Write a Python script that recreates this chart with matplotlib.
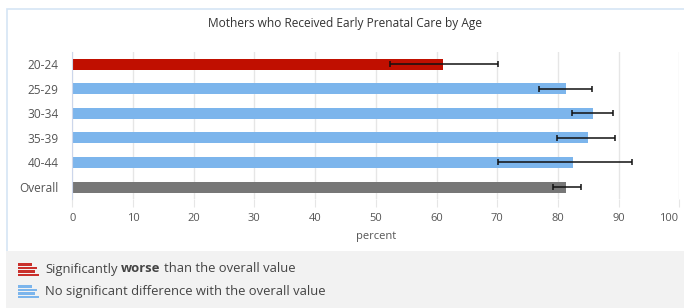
import matplotlib
matplotlib.use("Agg")
import matplotlib.pyplot as plt
import matplotlib.transforms as mtransforms
from matplotlib.patches import Rectangle

ages = ["20-24", "25-29", "30-34", "35-39", "40-44", "Overall"]
pct = [61.1, 81.3, 85.8, 85.0, 82.5, 81.3]
ci_low = [52.3, 76.9, 82.4, 79.9, 70.1, 79.2]
ci_high = [70.2, 85.6, 89.0, 89.4, 92.2, 83.8]
status = ["worse", "same", "same", "same", "same", "overall"]

colors = {"worse": "#c00f00", "same": "#7cb5ec", "overall": "#777777"}
W, H = 684, 308

plt.rcParams['font.family'] = ['Open Sans', 'DejaVu Sans']
fig = plt.figure(figsize=(W / 100, H / 100), dpi=100)

def px(x, y, w, h):
    # pixel box (top-left origin) -> figure fraction
    return (x / W, 1 - (y + h) / H, w / W, h / H)

def box(x, y, w, h, **kw):
    b = px(x, y, w, h)
    fig.patches.append(Rectangle(b[:2], b[2], b[3], transform=fig.transFigure, **kw))

# chart frame and legend band
box(6.5, 8.5, 690, 243, fc="white", ec="#d5e5f5", lw=1.2, zorder=-2)
box(6, 251, 690, 60, fc="#f2f2f2", ec="none", zorder=-1)

ax = fig.add_axes(px(72.3, 52, 607, 147.3))
ax.patch.set_alpha(0)
y = list(range(len(ages)))
bar_colors = [colors[s] for s in status]
ax.barh(y, pct, height=0.45, color=bar_colors, zorder=2)
xerr = [[p - lo for p, lo in zip(pct, ci_low)], [hi - p for p, hi in zip(pct, ci_high)]]
ax.errorbar(pct, y, xerr=xerr, fmt="none", ecolor="#111111", elinewidth=1.1,
            capsize=2, capthick=1.1, zorder=3)

ax.set_xlim(0, 100)
ax.set_ylim(len(ages) - 0.5, -0.5)
ax.set_yticks(y)
ax.set_yticklabels(ages)
ax.set_xticks(range(0, 101, 10))
ax.grid(axis="x", color="#e6e6e6", lw=1, zorder=0)
for s in ["top", "right", "bottom"]:
    ax.spines[s].set_visible(False)
ax.spines["left"].set_color("#ccd6eb")
ax.tick_params(axis="y", length=0, pad=10, labelsize=8.6, labelcolor="#555555")
ax.tick_params(axis="x", length=6, color="#e6e6e6", pad=4, labelsize=8, labelcolor="#555555")
ax.set_xlabel("percent", fontsize=8, color="#555555", labelpad=5)
# keep the last tick label inside the figure, as the original does
last = ax.get_xticklabels()[-1]
last.set_transform(last.get_transform() + mtransforms.ScaledTranslation(-11 / 100, 0, fig.dpi_scale_trans))

fig.text(345 / W, 1 - 24 / H, "Mothers who Received Early Prenatal Care by Age",
         ha="center", va="center", fontsize=8.6, color="#333333")

# legend icons
def icon(x0, y0, color, lens):
    for i, L in enumerate(lens):
        box(x0, y0 + i * 3.6, L, 2.6, fc=color, ec="none")

icon(18, 263, "#c9302c", [14, 19, 17, 21])
icon(18, 285, "#7cb5ec", [14, 19, 17, 21])

fig.canvas.draw()
r = fig.canvas.get_renderer()
LS = 9.4

def width(t, wgt):
    tx = fig.text(0, 0, t, fontsize=LS, fontweight=wgt)
    w = tx.get_window_extent(r).width
    tx.remove()
    return w

space = width("a a", "normal") - width("aa", "normal")
xx = 45
for t, wgt in [("Significantly", "normal"), ("worse", "bold"), ("than the overall value", "normal")]:
    fig.text(xx / W, 1 - 269 / H, t, ha="left", va="center", fontsize=LS,
             color="#444444", fontweight=wgt)
    xx += width(t, wgt) + space
fig.text(45 / W, 1 - 292 / H, "No significant difference with the overall value",
         ha="left", va="center", fontsize=LS, color="#444444")

fig.savefig("out.png", dpi=100)
